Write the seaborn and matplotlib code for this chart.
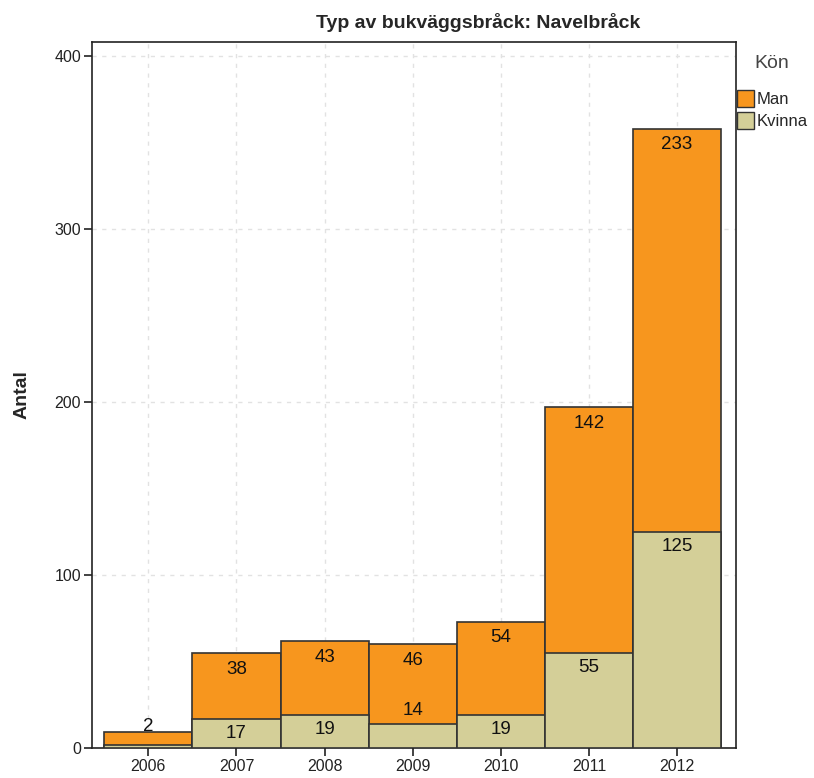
import numpy as np
import pandas as pd
import matplotlib
matplotlib.use("Agg")
import matplotlib.pyplot as plt
import seaborn as sns
from matplotlib.patches import Patch

years = ["2006", "2007", "2008", "2009", "2010", "2011", "2012"]
man = [7, 38, 43, 46, 54, 142, 233]
kvinna = [2, 17, 19, 14, 19, 55, 125]
man_labels = ["", "38", "43", "46", "54", "142", "233"]
kvinna_labels = ["2", "17", "19", "14", "19", "55", "125"]

orange = "#F7961E"
tan = "#D4CF98"
edge = "#333333"

sns.set_style("white")
plt.rcParams["font.family"] = ["Liberation Sans", "DejaVu Sans"]

df = pd.DataFrame({"year": years, "man": man, "kvinna": kvinna})
df["total"] = df["man"] + df["kvinna"]

fig = plt.figure(figsize=(8.14, 7.78), dpi=100)
ax = fig.add_axes([92 / 814, 30 / 778, 644 / 814, 706 / 778])

sns.barplot(data=df, x="year", y="total", color=orange, width=1.0,
            edgecolor=edge, linewidth=1.2, saturation=1, ax=ax, zorder=2)
sns.barplot(data=df, x="year", y="kvinna", color=tan, width=1.0,
            edgecolor=edge, linewidth=1.2, saturation=1, ax=ax, zorder=3)

# value labels
fs = 13.5
for i in range(len(years)):
    k = df["kvinna"][i]
    t = df["total"][i]
    if man_labels[i]:
        ax.text(i, t - 4.5, man_labels[i], ha="center", va="top", fontsize=fs, color="#111111", zorder=5)
    if k >= 15:
        ax.text(i, k - 3.5, kvinna_labels[i], ha="center", va="top", fontsize=fs, color="#111111", zorder=5)
    elif man_labels[i]:
        ax.text(i, k + 3, kvinna_labels[i], ha="center", va="bottom", fontsize=fs, color="#111111", zorder=5)
    else:
        ax.text(i, t - 1.5, kvinna_labels[i], ha="center", va="bottom", fontsize=fs, color="#111111", zorder=5)

ax.set_xlim(-0.64, 6.67)
ax.set_ylim(0, 408)
ax.set_yticks([0, 100, 200, 300, 400])
ax.grid(True, color="#e2e2e2", linestyle=(0, (3, 4)), linewidth=1)
ax.set_axisbelow(True)
for s in ax.spines.values():
    s.set_color("#222222")
    s.set_linewidth(1.2)
ax.tick_params(axis="both", direction="out", length=6, width=1.2, color="#222222",
               labelsize=11.5, labelcolor="#222222", pad=2, left=True, bottom=True)
ax.set_xlabel("")
ax.set_ylabel("Antal", fontsize=14, fontweight="bold", labelpad=17)

fig.text(478 / 814, 1 - 22 / 778, "Typ av bukväggsbråck: Navelbråck", ha="center", va="center",
         fontsize=14, fontweight="bold")

# legend
handles = [Patch(facecolor=orange, edgecolor=edge, label="Man"),
           Patch(facecolor=tan, edgecolor=edge, label="Kvinna")]
leg = fig.legend(handles=handles, title="Kön", loc="upper left", bbox_to_anchor=(737 / 814, 1 - 55 / 778),
                 frameon=False, fontsize=12, title_fontsize=14, handlelength=1.0, handleheight=1.15,
                 handletextpad=0.15, labelspacing=0.3, borderaxespad=0, borderpad=0)
leg.get_title().set_color("#444444")
leg._legend_box.sep = 13

fig.savefig("out.png", dpi=100)
